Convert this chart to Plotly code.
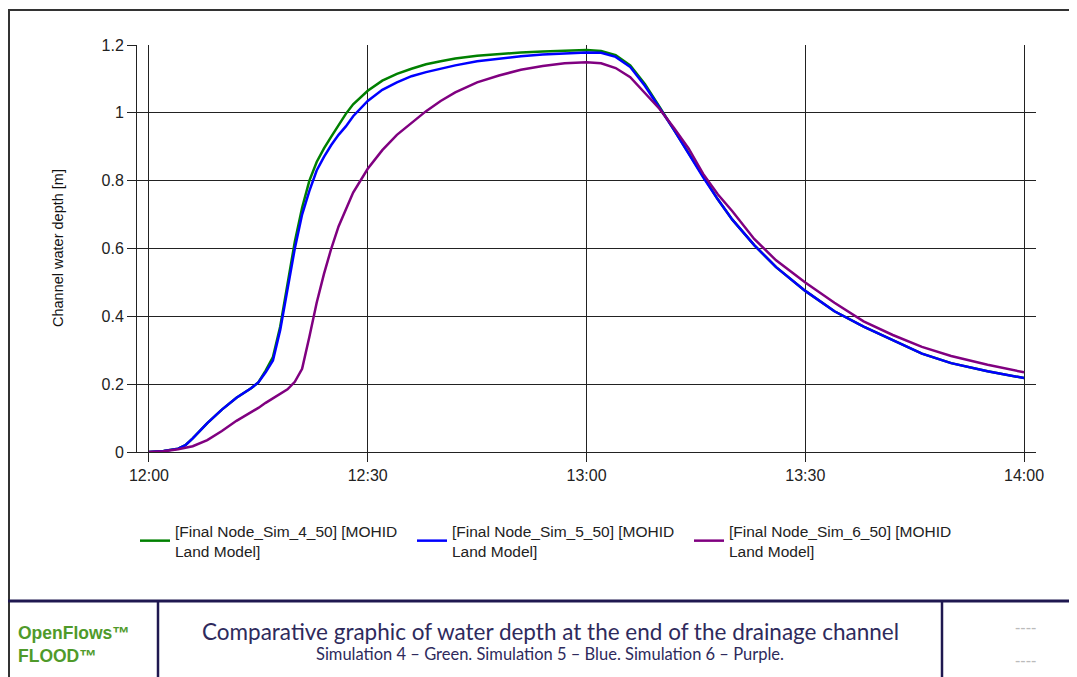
import plotly.graph_objects as go

# minutes after 12:00
minutes = [0, 2, 4, 5, 6, 8, 10, 12, 14, 15, 16, 17, 18, 19, 20, 21, 22, 23, 24, 25, 26, 27, 28,
           30, 32, 34, 36, 38, 40, 42, 45, 48, 51, 54, 57, 60, 62, 64, 66, 68, 70, 72, 74, 76,
           78, 80, 83, 86, 90, 94, 98, 102, 106, 110, 115, 120]

sim4_green = [0, 0.003, 0.01, 0.02, 0.04, 0.085, 0.125, 0.16, 0.188, 0.205, 0.24, 0.28, 0.37, 0.50,
              0.62, 0.72, 0.80, 0.855, 0.895, 0.93, 0.965, 0.997, 1.025,
              1.065, 1.095, 1.115, 1.13, 1.143, 1.152, 1.16, 1.168, 1.174, 1.178, 1.181, 1.184, 1.185,
              1.182, 1.17, 1.14, 1.085, 1.018, 0.95, 0.88, 0.81,
              0.745, 0.685, 0.61, 0.545, 0.475, 0.415, 0.37, 0.33, 0.29, 0.262, 0.238, 0.218]

sim5_blue = [0, 0.003, 0.01, 0.02, 0.04, 0.085, 0.125, 0.16, 0.188, 0.205, 0.235, 0.27, 0.36, 0.48,
             0.60, 0.70, 0.77, 0.83, 0.87, 0.905, 0.935, 0.96, 0.99,
             1.035, 1.068, 1.09, 1.108, 1.12, 1.13, 1.14, 1.152, 1.16, 1.167, 1.172, 1.176, 1.178,
             1.177, 1.165, 1.135, 1.08, 1.015, 0.95, 0.88, 0.81,
             0.745, 0.685, 0.61, 0.545, 0.475, 0.415, 0.37, 0.33, 0.29, 0.262, 0.238, 0.218]

sim6_purple = [0, 0.002, 0.008, 0.012, 0.017, 0.035, 0.062, 0.092, 0.117, 0.13, 0.145, 0.158, 0.17, 0.185,
               0.207, 0.245, 0.34, 0.44, 0.525, 0.60, 0.665, 0.715, 0.765,
               0.835, 0.89, 0.935, 0.97, 1.005, 1.035, 1.06, 1.09, 1.11, 1.127, 1.138, 1.146, 1.149,
               1.146, 1.132, 1.105, 1.06, 1.012, 0.955, 0.895, 0.82,
               0.76, 0.71, 0.628, 0.565, 0.5, 0.44, 0.385, 0.345, 0.31, 0.283, 0.257, 0.235]

series_names = ["[Final Node_Sim_4_50] [MOHID<br>Land Model]",
                "[Final Node_Sim_5_50] [MOHID<br>Land Model]",
                "[Final Node_Sim_6_50] [MOHID<br>Land Model]"]
series_colors = ["#008000", "#0000ff", "#800080"]

x_tickvals = [0, 30, 60, 90, 120]
x_ticktext = ["12:00", "12:30", "13:00", "13:30", "14:00"]
y_tickvals = [0, 0.2, 0.4, 0.6, 0.8, 1.0, 1.2]
y_ticktext = ["0", "0.2", "0.4", "0.6", "0.8", "1", "1.2"]

# page body has an 8px margin; the figure is placed at (8, 8) on screen
OFF = 8
W, H = 1077 - OFF, 677 - OFF
L, R, T, B = 137, 1036, 45, 452   # plot area in screen pixels


def px(x):
    return (x - L) / (R - L)


def py(y):
    return (B - y) / (B - T)


fig = go.Figure()
for vals, name, col in zip([sim4_green, sim5_blue, sim6_purple], series_names, series_colors):
    fig.add_trace(go.Scatter(x=minutes, y=vals, mode="lines", name=name,
                             line=dict(color=col, width=2.5)))

FONT = "Liberation Sans"
fig.update_layout(
    width=W, height=H,
    margin=dict(l=L - OFF, r=W - (R - OFF), t=T - OFF, b=H - (B - OFF)),
    paper_bgcolor="white", plot_bgcolor="white",
    font=dict(family=FONT, color="#222"),
    showlegend=True,
    legend=dict(orientation="h", x=px(135), y=py(514), xanchor="left", yanchor="top",
                font=dict(family=FONT, size=15.5, color="#222"),
                entrywidth=232, entrywidthmode="pixels", valign="middle",
                bgcolor="rgba(0,0,0,0)"),
    xaxis=dict(range=[-1.64, 121.64], tickvals=x_tickvals, ticktext=x_ticktext,
               showgrid=True, gridcolor="#222", gridwidth=1, zeroline=False,
               showline=True, linecolor="#222", linewidth=1,
               ticks="outside", ticklen=9, tickcolor="#222",
               tickfont=dict(size=16, color="#222")),
    yaxis=dict(range=[0, 1.2], tickvals=y_tickvals, ticktext=y_ticktext,
               showgrid=True, gridcolor="#222", gridwidth=1, zeroline=False,
               showline=True, linecolor="#222", linewidth=1,
               ticks="outside", ticklen=9, tickcolor="#222",
               tickfont=dict(size=16, color="#222")),
)

NAVY = "#1f1850"
shapes = [
    # outer frame
    dict(type="line", xref="paper", yref="paper", x0=px(9), x1=px(9), y0=py(9), y1=py(690),
         line=dict(color="#333", width=2)),
    dict(type="line", xref="paper", yref="paper", x0=px(8), x1=px(1090), y0=py(10), y1=py(10),
         line=dict(color="#333", width=2)),
    # footer
    dict(type="line", xref="paper", yref="paper", x0=px(8), x1=px(1090), y0=py(601), y1=py(601),
         line=dict(color=NAVY, width=3)),
    dict(type="line", xref="paper", yref="paper", x0=px(158), x1=px(158), y0=py(601), y1=py(690),
         line=dict(color=NAVY, width=2.5)),
    dict(type="line", xref="paper", yref="paper", x0=px(942), x1=px(942), y0=py(601), y1=py(690),
         line=dict(color=NAVY, width=2.5)),
]
fig.update_layout(shapes=shapes)

ann = [
    dict(text="Channel water depth [m]", x=px(58), y=py(248), xanchor="center", yanchor="middle",
         textangle=-90, font=dict(family=FONT, size=14.5, color="#111")),
    dict(text="<b>OpenFlows™</b>", x=px(16), y=py(633), xanchor="left", yanchor="middle",
         font=dict(family=FONT, size=17.5, color="#4f9a2a")),
    dict(text="<b>FLOOD™</b>", x=px(16), y=py(656), xanchor="left", yanchor="middle",
         font=dict(family=FONT, size=17.5, color="#4f9a2a")),
    dict(text="Comparative graphic of water depth at the end of the drainage channel",
         x=px(550), y=py(631), xanchor="center", yanchor="middle",
         font=dict(family="Lato", size=22.5, color="#2e2a5c")),
    dict(text="Simulation 4 – Green. Simulation 5 – Blue. Simulation 6 – Purple.",
         x=px(550), y=py(654), xanchor="center", yanchor="middle",
         font=dict(family="Lato", size=16.5, color="#2e2a5c")),
    dict(text="----", x=px(1025), y=py(627), xanchor="center", yanchor="middle",
         font=dict(family=FONT, size=16, color="#bbb")),
    dict(text="----", x=px(1025), y=py(660), xanchor="center", yanchor="middle",
         font=dict(family=FONT, size=16, color="#bbb")),
]
for a in ann:
    a.update(xref="paper", yref="paper", showarrow=False)
fig.update_layout(annotations=ann)

fig.write_html("out.html")
